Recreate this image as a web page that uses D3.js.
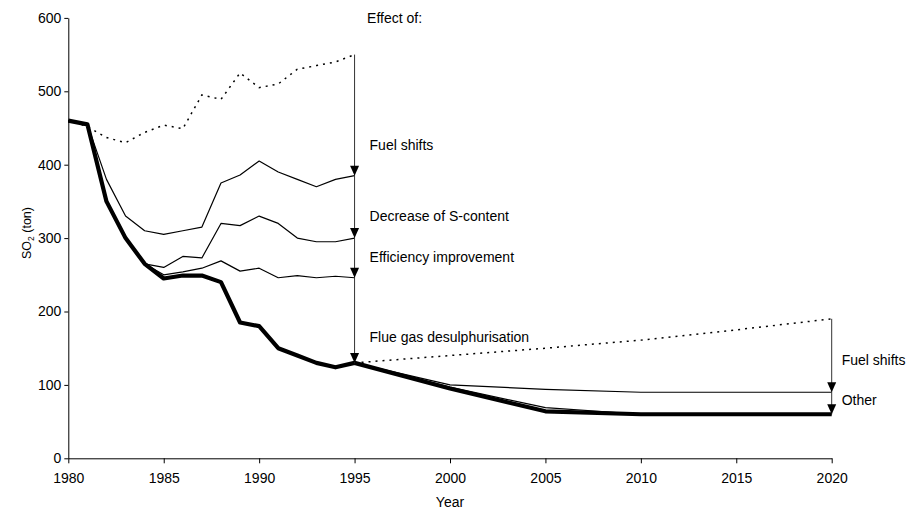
<!DOCTYPE html>
<html>
<head>
<meta charset="utf-8">
<script src="https://cdn.jsdelivr.net/npm/d3@7/dist/d3.min.js"></script>
<style>
  html, body { margin: 0; padding: 0; background: #fff; }
  svg { display: block; font-family: "Liberation Sans", Arial, sans-serif; }
</style>
</head>
<body>
<svg id="chart" width="907" height="509"></svg>
<script>
// ---- Data ----
const yearsHist = [1980, 1981, 1982, 1983, 1984, 1985, 1986, 1987, 1988, 1989, 1990, 1991, 1992, 1993, 1994, 1995];
const noMeasures      = [460, 452, 437, 430, 444, 454, 449, 495, 489, 525, 505, 510, 530, 535, 540, 550];
const afterFuelShifts = [460, 455, 380, 330, 310, 305, 310, 315, 375, 386, 405, 390, 380, 370, 380, 385];
const afterSContent   = [460, 455, 352, 302, 265, 260, 275, 273, 320, 317, 330, 320, 300, 295, 295, 300];
const afterEfficiency = [460, 455, 351, 301, 265, 250, 254, 259, 269, 255, 259, 246, 249, 246, 248, 246];
const actual          = [460, 455, 350, 300, 265, 245, 249, 249, 240, 185, 180, 150, 140, 130, 124, 130];

const yearsProj = [1995, 2000, 2005, 2010, 2015, 2020];
const projNoMeasures  = [130, 140, 150, 161, 175, 190];
const projFuelShifts  = [130, 100, 94, 90, 90, 90];
const projOther       = [130, 97, 69, 60, 60, 60];
const projActual      = [130, 95, 64, 60, 60, 60];

const xTicks = [1980, 1985, 1990, 1995, 2000, 2005, 2010, 2015, 2020];
const yTicks = [0, 100, 200, 300, 400, 500, 600];

// arrow stops (value levels) at 1995 and 2020
const arrowYear1 = 1995;
const arrowStops1 = [550, 385, 300, 246, 130];
const arrowYear2 = 2020;
const arrowStops2 = [190, 90, 60];

// annotation labels: [year of arrow, value of baseline, text]
const leftLabels = [
  [593, "Effect of:"],
  [420, "Fuel shifts"],
  [323, "Decrease of S-content"],
  [267, "Efficiency improvement"],
  [158.5, "Flue gas desulphurisation"]
];
const rightLabels = [
  [127, "Fuel shifts"],
  [72.5, "Other"]
];

// ---- Chart ----
const svg = d3.select("#chart");
const x = d3.scaleLinear().domain([1980, 2020]).range([68.3, 831.7]);
const y = d3.scaleLinear().domain([0, 600]).range([458.3, 17.9]);

const line = d3.line().x(d => x(d[0])).y(d => y(d[1]));
const zip = (xs, ys) => xs.map((v, i) => [v, ys[i]]);

// axes
const xAxis = svg.append("g")
  .attr("transform", `translate(0,${y(0)})`)
  .call(d3.axisBottom(x).tickValues(xTicks).tickFormat(d3.format("d")).tickSize(5).tickPadding(10).tickSizeOuter(0));
const yAxis = svg.append("g")
  .attr("transform", `translate(${x(1980)},0)`)
  .call(d3.axisLeft(y).tickValues(yTicks).tickSize(4).tickPadding(3).tickSizeOuter(0));
[xAxis, yAxis].forEach(g => {
  g.selectAll("text").attr("font-size", 14).attr("fill", "#000")
    .attr("font-family", "Liberation Sans, Arial, sans-serif");
  g.selectAll("line,path").attr("stroke", "#000").attr("stroke-width", 1);
});

// lines
const thin = (data) => svg.append("path").datum(data).attr("d", line)
  .attr("fill", "none").attr("stroke", "#000").attr("stroke-width", 1.2).attr("stroke-linejoin", "round");

svg.append("path").datum(zip(yearsHist, noMeasures)).attr("d", line)
  .attr("fill", "none").attr("stroke", "#000").attr("stroke-width", 1.5).attr("stroke-dasharray", "2,5");
svg.append("path").datum(zip(yearsProj, projNoMeasures)).attr("d", line)
  .attr("fill", "none").attr("stroke", "#000").attr("stroke-width", 1.5).attr("stroke-dasharray", "2,5");

thin(zip(yearsHist, afterFuelShifts));
thin(zip(yearsHist, afterSContent));
thin(zip(yearsHist, afterEfficiency));
thin(zip(yearsProj, projFuelShifts));
thin(zip(yearsProj, projOther));

svg.append("path").datum(zip(yearsHist, actual)).attr("d", line)
  .attr("fill", "none").attr("stroke", "#000").attr("stroke-width", 4.2).attr("stroke-linejoin", "round");
svg.append("path").datum(zip(yearsProj, projActual)).attr("d", line)
  .attr("fill", "none").attr("stroke", "#000").attr("stroke-width", 4.2).attr("stroke-linejoin", "round");

// arrows
function arrows(year, stops) {
  const ax = x(year);
  svg.append("line").attr("x1", ax).attr("x2", ax)
    .attr("y1", y(stops[0])).attr("y2", y(stops[stops.length - 1]))
    .attr("stroke", "#333").attr("stroke-width", 1);
  stops.slice(1).forEach(v => {
    const ty = y(v);
    svg.append("path")
      .attr("d", `M${ax},${ty} L${ax - 4.5},${ty - 10} L${ax + 4.5},${ty - 10} Z`)
      .attr("fill", "#000");
  });
}
arrows(arrowYear1, arrowStops1);
arrows(arrowYear2, arrowStops2);

// annotation labels
leftLabels.forEach(([v, t], i) => {
  svg.append("text").attr("x", x(arrowYear1) + (i === 0 ? 12.5 : 15)).attr("y", y(v))
    .attr("font-size", 14).attr("fill", "#000").text(t);
});
rightLabels.forEach(([v, t]) => {
  svg.append("text").attr("x", x(arrowYear2) + 10).attr("y", y(v))
    .attr("font-size", 14).attr("fill", "#000").text(t);
});

// axis titles
svg.append("text").attr("x", (x(1980) + x(2020)) / 2).attr("y", 507)
  .attr("text-anchor", "middle").attr("font-size", 14).attr("fill", "#000").text("Year");

const yt = svg.append("text").attr("transform", "translate(31,233) rotate(-90)")
  .attr("text-anchor", "middle").attr("font-size", 12.5).attr("fill", "#000");
yt.append("tspan").text("SO");
yt.append("tspan").attr("font-size", 8.5).attr("dy", 3).text("2");
yt.append("tspan").attr("dy", -3).text(" (ton)");
</script>
</body>
</html>
